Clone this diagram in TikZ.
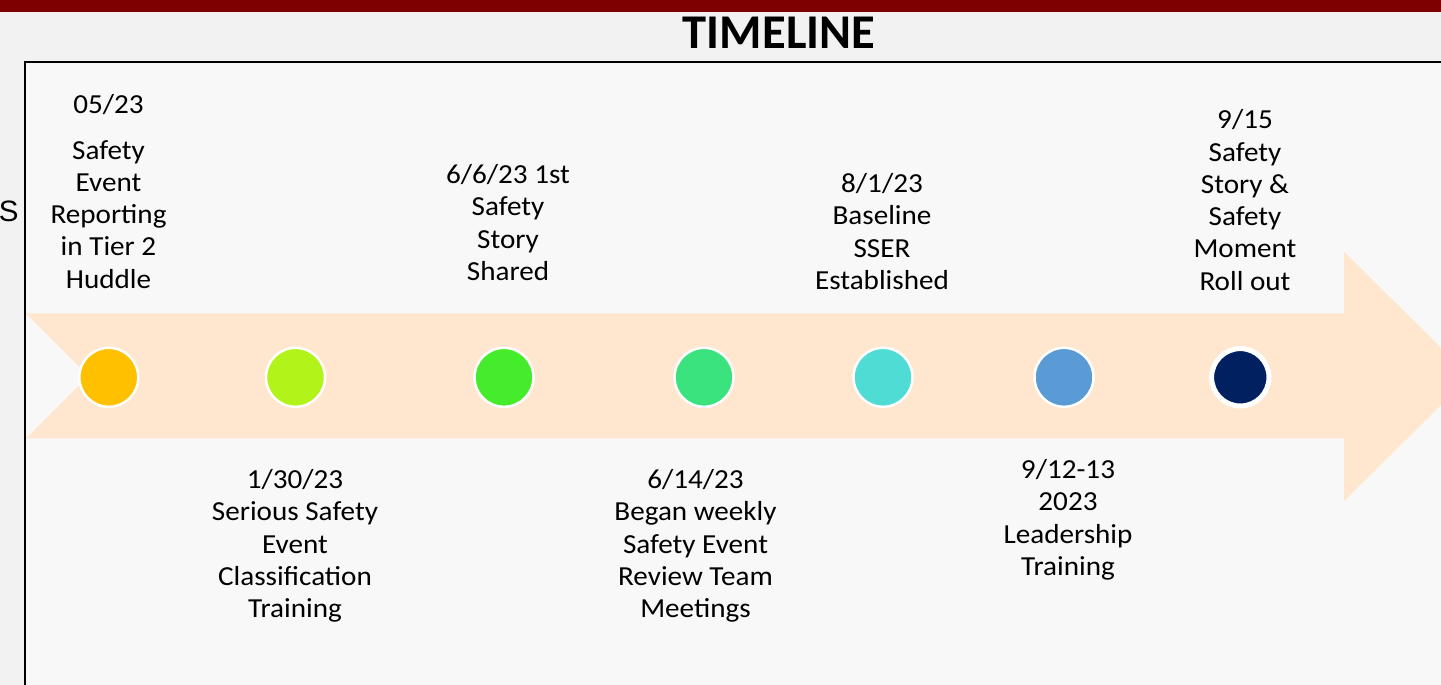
\documentclass[tikz,border=0pt]{standalone}
\usepackage{fontspec}
\setmainfont{Carlito}
\newfontfamily\bodyfont{Carlito}[FakeStretch=1.06]
\newfontfamily\titlefont{Carlito}
\newfontfamily\edgefont{Liberation Sans}
\definecolor{pagebg}{HTML}{F2F2F2}
\definecolor{panelbg}{HTML}{F8F8F8}
\definecolor{barred}{HTML}{7F0000}
\definecolor{arrowfill}{HTML}{FEE7CE}
\definecolor{dotA}{HTML}{FFC000}
\definecolor{dotB}{HTML}{B2F31A}
\definecolor{dotC}{HTML}{45EC2C}
\definecolor{dotD}{HTML}{3BE37F}
\definecolor{dotE}{HTML}{4EDCD5}
\definecolor{dotF}{HTML}{5B9BD5}
\definecolor{dotG}{HTML}{002060}
\tikzset{
  event/.style={anchor=north, inner sep=0pt, align=center, text=black,
    font=\bodyfont\fontsize{27.5}{32.3}\selectfont},
  dot/.style={circle, inner sep=0pt, minimum size=59pt, draw=white, line width=2.5pt},
  bigdot/.style={circle, inner sep=0pt, minimum size=57.4pt, draw=white, line width=5pt}
}
\begin{document}
\begin{tikzpicture}[x=1pt, y=-1pt]
  % page
  \useasboundingbox (0,0) rectangle (1441,685);
  \clip (0,0) rectangle (1441,685);
  \fill[pagebg] (0,0) rectangle (1441,685);
  \fill[barred] (0,0) rectangle (1441,12.3);

  % heading
  \node[anchor=base, inner sep=0pt, font=\titlefont\bfseries\fontsize{48.5}{56}\selectfont]
    (title) at (779,49) {TIMELINE};

  % letter from the neighbouring slide column
  \node[anchor=base east, inner sep=0pt, font=\edgefont\fontsize{29.5}{34}\selectfont]
    (edge) at (18.8,221.7) {S};

  % panel
  \fill[panelbg] (25,62) rectangle (1450,700);
  \draw[black, line width=2pt] (25,700) -- (25,62) -- (1450,62);

  % timeline arrow
  \fill[arrowfill] (26,313.3) -- (1344,313.3) -- (1344,251.7) -- (1470,376.5)
    -- (1344,501) -- (1344,438.3) -- (26,438.3) -- (88.5,376) -- cycle;

  % milestones
  \node[dot, fill=dotA] (m1) at (108.8,377.3) {};
  \node[dot, fill=dotB] (m2) at (295.5,377.3) {};
  \node[dot, fill=dotC] (m3) at (504,377.3) {};
  \node[dot, fill=dotD] (m4) at (704,377.3) {};
  \node[dot, fill=dotE] (m5) at (883,377.3) {};
  \node[dot, fill=dotF] (m6) at (1064,377.3) {};
  \node[bigdot, fill=dotG] (m7) at (1240.3,377.3) {};

  % labels above the arrow
  \node[event] (t1) at (108.5,90.4)
    {\strut 05/23\\[13.5pt]Safety\\Event\\Reporting\\in Tier 2\\Huddle};
  \node[event] (t3) at (508,160.7)
    {\strut 6/6/23 1st\\Safety\\Story\\Shared};
  \node[event] (t5) at (882,169.7)
    {\strut 8/1/23\\Baseline\\SSER\\Established};
  \node[event] (t7) at (1245,105.9)
    {\strut 9/15\\Safety\\Story \&\\Safety\\Moment\\Roll out};

  % labels below the arrow
  \node[event] (t2) at (295,465.7)
    {\strut 1/30/23\\Serious Safety\\Event\\Classification\\Training};
  \node[event] (t4) at (695.5,465.7)
    {\strut 6/14/23\\Began weekly\\Safety Event\\Review Team\\Meetings};
  \node[event] (t6) at (1068,455.7)
    {\strut 9/12-13\\2023\\Leadership\\Training};
\end{tikzpicture}
\end{document}
